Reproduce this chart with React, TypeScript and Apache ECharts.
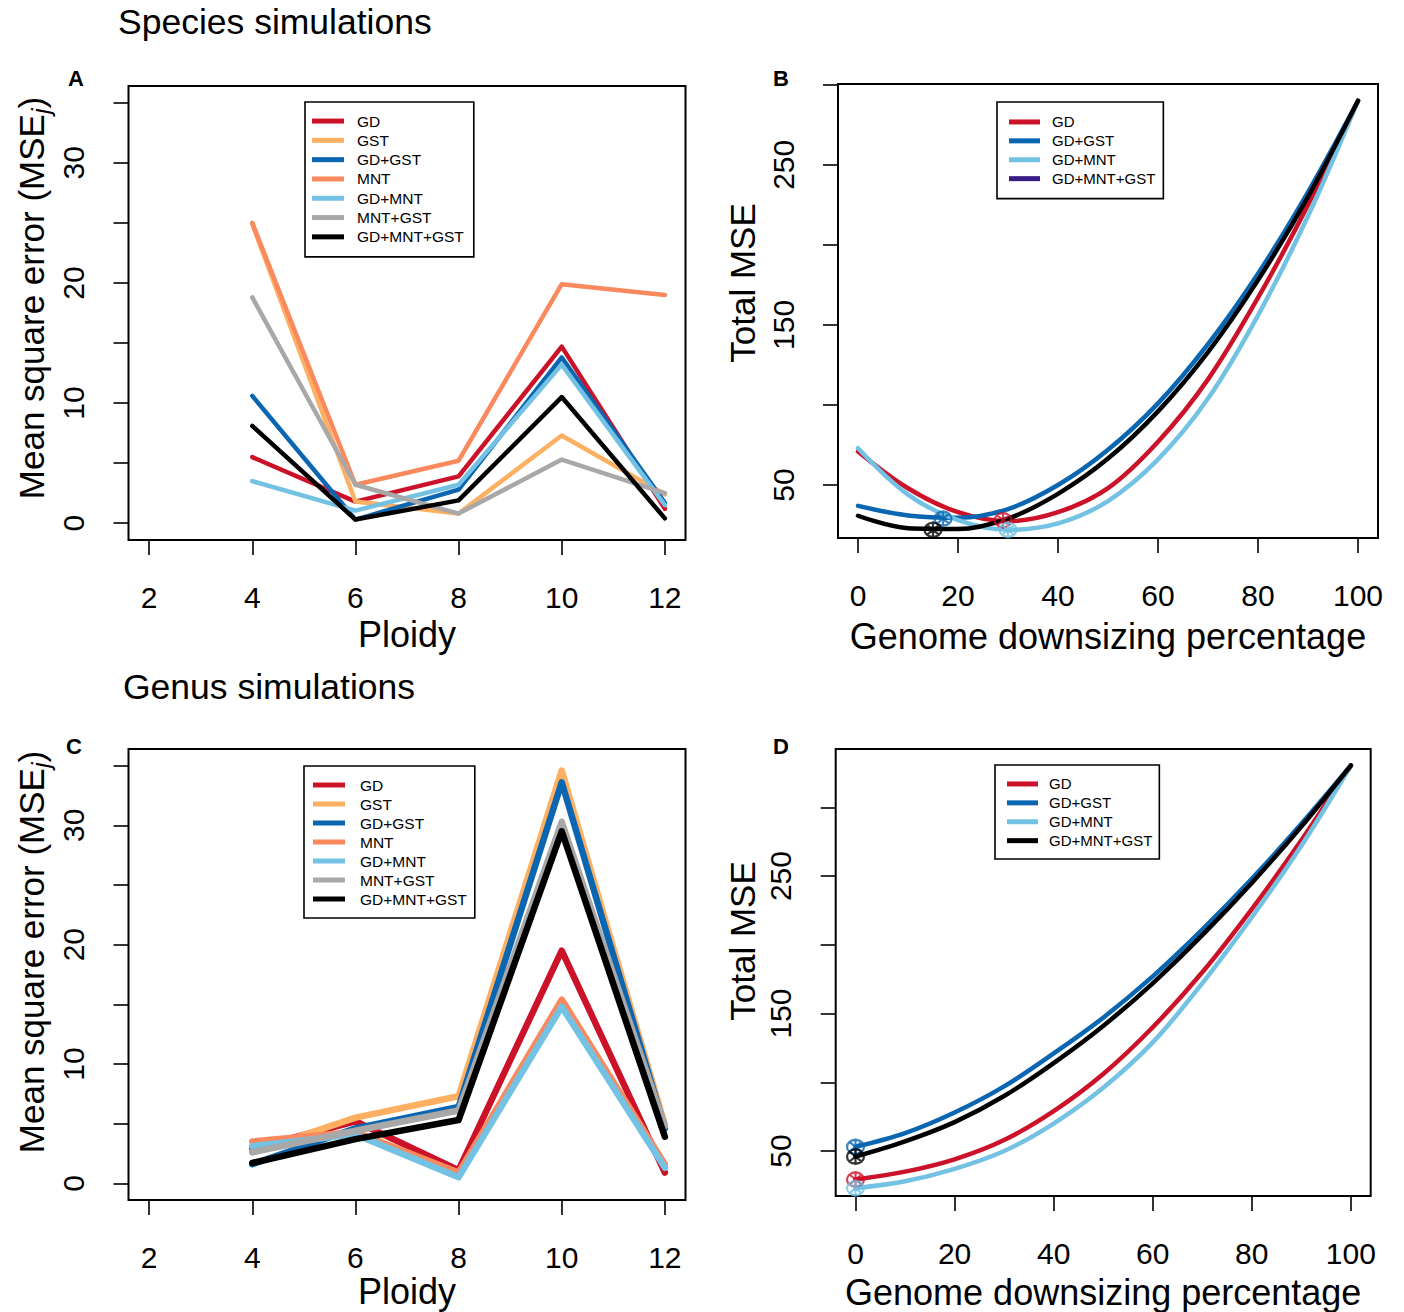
import React, { useEffect, useRef } from 'react';
import * as echarts from 'echarts';

const FONT = '"Liberation Sans", Arial, Helvetica, sans-serif';

// ---------- Panels A & C (ploidy) ----------
const ploidy = [4, 6, 8, 10, 12];
const ploidyTicks = [2, 4, 6, 8, 10, 12];
const mseTicks = [0, 5, 10, 15, 20, 25, 30, 35];
const mseLabels = [0, 10, 20, 30];

const names7 = ['GD', 'GST', 'GD+GST', 'MNT', 'GD+MNT', 'MNT+GST', 'GD+MNT+GST'];
const colors7 = ['#CC1229', '#FDB062', '#0B66B2', '#FA8A5E', '#73C2E3', '#A8A8A8', '#000000'];

// Species simulations (A)
const spGD = [5.5, 1.8, 3.9, 14.7, 1.2];
const spGST = [24.9, 1.8, 0.8, 7.3, 2.4];
const spGDGST = [10.6, 0.3, 2.8, 13.8, 1.7];
const spMNT = [25.0, 3.2, 5.2, 19.9, 19.0];
const spGDMNT = [3.5, 1.05, 3.2, 13.2, 1.5];
const spMNTGST = [18.8, 3.2, 0.8, 5.3, 2.5];
const spAll = [8.1, 0.3, 1.9, 10.5, 0.4];

// Genus simulations (C)
const geGD = [2.9, 5.2, 1.1, 19.5, 0.9];
const geGST = [2.6, 5.5, 7.3, 34.6, 4.9];
const geGDGST = [1.6, 4.6, 6.4, 33.6, 4.6];
const geMNT = [3.5, 4.3, 0.9, 15.4, 1.6];
const geGDMNT = [3.1, 4.1, 0.5, 14.8, 1.3];
const geMNTGST = [2.6, 4.4, 6.1, 30.3, 4.8];
const geAll = [1.7, 3.7, 5.3, 29.5, 3.9];

// ---------- Panels B & D (genome downsizing) ----------
const downsizing = [0, 10, 20, 30, 40, 50, 60, 70, 80, 90, 100];
const pctTicks = [0, 20, 40, 60, 80, 100];
const totalTicks = [50, 100, 150, 200, 250, 300];
const totalLabels = [50, 150, 250];

const names4 = ['GD', 'GD+GST', 'GD+MNT', 'GD+MNT+GST'];
const colors4 = ['#CC1229', '#0B66B2', '#73C2E3', '#000000'];
const legendBAllColor = '#3A1E88';

// B (species)
const bGD = [71, 48, 33, 27.4, 33, 48, 77, 116, 167, 225, 290];
const bGDGST = [37, 31, 29.5, 35, 50, 72, 101, 138, 182, 233, 290];
const bGDMNT = [73, 44, 28, 22, 26, 40, 66, 104, 156, 218, 290];
const bAll = [30.8, 23, 22.5, 29, 44.5, 66.5, 96, 133, 178, 230, 290];
const bOptX = [29, 17, 30, 15];
const bOptY = [28, 29, 22, 22];

// D (genus)
const dGD = [29.3, 35, 44, 58, 79, 106, 140, 180, 226, 276, 330.4];
const dGDGST = [53, 63, 78, 97, 121, 147, 177, 211, 248, 288, 330.4];
const dGDMNT = [23, 28, 37, 50, 70, 96, 129, 172, 220, 272, 330.4];
const dAll = [46, 57, 71, 90, 114, 141, 172, 207, 245, 286, 330.4];
const dOptX = [0, 0, 0, 0];
const dOptY = [29.3, 53, 23, 46];

const MARKER =
  'path://M2,12A10,10,0,1,0,22,12A10,10,0,1,0,2,12ZM4.9,4.9L19.1,19.1M19.1,4.9L4.9,19.1M12,0L12,24';

function xAxisCfg(gridIndex: number, min: number, max: number, ticks: number[], name: string, nameGap: number) {
  return {
    type: 'value',
    gridIndex,
    min,
    max,
    axisLine: { show: false, onZero: false },
    axisTick: { show: true, customValues: ticks, length: 15, lineStyle: { color: '#000', width: 1.6 } },
    axisLabel: { show: true, customValues: ticks, margin: 42, fontSize: 30, color: '#000', fontFamily: FONT },
    splitLine: { show: false },
    name,
    nameLocation: 'middle',
    nameGap,
    nameTextStyle: { fontSize: 36, color: '#000', fontFamily: FONT },
  };
}

function yAxisCfg(gridIndex: number, min: number, max: number, ticks: number[], labels: number[]) {
  return {
    type: 'value',
    gridIndex,
    min,
    max,
    axisLine: { show: false, onZero: false },
    axisTick: { show: true, customValues: ticks, length: 15, lineStyle: { color: '#000', width: 1.6 } },
    axisLabel: {
      show: true,
      customValues: labels,
      rotate: 90,
      margin: 40,
      fontSize: 30,
      color: '#000',
      fontFamily: FONT,
    },
    splitLine: { show: false },
  };
}

function lineSeries(name: string, color: string, axis: number, xs: number[], ys: number[], width: number, smooth: number | boolean) {
  return {
    type: 'line',
    name,
    xAxisIndex: axis,
    yAxisIndex: axis,
    data: xs.map((x, i) => [x, ys[i]]),
    showSymbol: false,
    symbol: 'none',
    smooth,
    silent: true,
    lineStyle: { color, width, cap: 'round', join: 'round' },
    itemStyle: { color },
  };
}

function optSeries(name: string, axis: number, xs: number[], ys: number[]) {
  return {
    type: 'scatter',
    name,
    xAxisIndex: axis,
    yAxisIndex: axis,
    symbol: MARKER,
    symbolSize: 17,
    silent: true,
    z: 5,
    data: xs.map((x, i) => ({
      value: [x, ys[i]],
      itemStyle: { color: 'rgba(0,0,0,0)', borderColor: colors4[i], borderWidth: 2.2 },
    })),
  };
}

function legendCfg(left: number, top: number, names: string[], padding: number[], itemWidth: number, fontSize: number, lineHeight: number, textPad: number, overrides: Record<string, string> = {}) {
  return {
    left,
    top,
    orient: 'vertical',
    selectedMode: false,
    icon: 'rect',
    itemWidth,
    itemHeight: 5,
    itemGap: 0,
    padding,
    borderColor: '#000',
    borderWidth: 1.6,
    backgroundColor: '#fff',
    textStyle: { fontSize, lineHeight, color: '#000', fontFamily: FONT, padding: [0, 0, 0, textPad] },
    data: names.map((n) => (overrides[n] ? { name: n, itemStyle: { color: overrides[n] } } : { name: n })),
  };
}

function yTitle(x: number, y: number, kind: 'mse' | 'total') {
  if (kind === 'mse') {
    return {
      type: 'text',
      x,
      y,
      rotation: Math.PI / 2,
      style: {
        text: '{n|Mean square error (MSE}{s|j}{n|)}',
        align: 'center',
        verticalAlign: 'middle',
        fill: '#000',
        fontFamily: FONT,
        fontSize: 35,
        rich: {
          n: { fontSize: 35, fontFamily: FONT, fill: '#000', lineHeight: 44 },
          s: { fontSize: 25, fontFamily: FONT, fontStyle: 'italic', fill: '#000', verticalAlign: 'bottom', lineHeight: 26 },
        },
      },
    };
  }
  return {
    type: 'text',
    x,
    y,
    rotation: Math.PI / 2,
    style: { text: 'Total MSE', align: 'center', verticalAlign: 'middle', fill: '#000', fontFamily: FONT, fontSize: 35 },
  };
}

function textEl(x: number, y: number, text: string, fontSize: number, bold = false) {
  return {
    type: 'text',
    x,
    y,
    style: {
      text,
      fontSize,
      fontWeight: bold ? 'bold' : 'normal',
      fontFamily: FONT,
      fill: '#000',
      align: bold ? 'center' : 'left',
      verticalAlign: 'middle',
    },
  };
}

function buildOption() {
  const species = [spGD, spGST, spGDGST, spMNT, spGDMNT, spMNTGST, spAll];
  const genus = [geGD, geGST, geGDGST, geMNT, geGDMNT, geMNTGST, geAll];
  const bVals = [bGD, bGDGST, bGDMNT, bAll];
  const dVals = [dGD, dGDGST, dGDMNT, dAll];

  const series: any[] = [];
  names7.forEach((n, i) => series.push(lineSeries(n, colors7[i], 0, ploidy, species[i], 4.5, false)));
  names4.forEach((n, i) => series.push(lineSeries(n, colors4[i], 1, downsizing, bVals[i], 4.5, 0.35)));
  series.push(optSeries('B optimum', 1, bOptX, bOptY));
  names7.forEach((n, i) => series.push(lineSeries(n, colors7[i], 2, ploidy, genus[i], 6.5, false)));
  names4.forEach((n, i) => series.push(lineSeries(n, colors4[i], 3, downsizing, dVals[i], 4.5, 0.35)));
  series.push(optSeries('D optimum', 3, dOptX, dOptY));

  return {
    animation: false,
    backgroundColor: '#fff',
    textStyle: { fontFamily: FONT },
    grid: [
      { left: 128.5, top: 86, width: 557, height: 454, show: true, borderColor: '#000', borderWidth: 2, backgroundColor: 'transparent' },
      { left: 838, top: 84, width: 540, height: 454, show: true, borderColor: '#000', borderWidth: 2, backgroundColor: 'transparent' },
      { left: 128.5, top: 749, width: 557, height: 451, show: true, borderColor: '#000', borderWidth: 2, backgroundColor: 'transparent' },
      { left: 835.7, top: 749, width: 535, height: 447, show: true, borderColor: '#000', borderWidth: 2, backgroundColor: 'transparent' },
    ],
    xAxis: [
      xAxisCfg(0, 1.6, 12.4, ploidyTicks, 'Ploidy', 76),
      xAxisCfg(1, -4, 104, pctTicks, 'Genome downsizing percentage', 80),
      xAxisCfg(2, 1.6, 12.4, ploidyTicks, 'Ploidy', 73),
      xAxisCfg(3, -4, 104, pctTicks, 'Genome downsizing percentage', 78),
    ],
    yAxis: [
      yAxisCfg(0, -1.4, 36.4, mseTicks, mseLabels),
      yAxisCfg(1, 16.9, 300.5, totalTicks, totalLabels),
      yAxisCfg(2, -1.4, 36.4, mseTicks, mseLabels),
      yAxisCfg(3, 17.3, 342.4, totalTicks, totalLabels),
    ],
    legend: [
      legendCfg(305, 102, names7, [9.4, 10, 10.4, 7], 32, 15.5, 19.3, 8),
      legendCfg(997, 102, names4, [10.5, 8, 10.5, 12], 31, 15, 18.9, 7, { 'GD+MNT+GST': legendBAllColor }),
      legendCfg(304, 766, names7, [9.5, 8, 9.5, 9], 32, 15.5, 19, 10),
      legendCfg(995, 765, names4, [9.5, 7, 8.9, 12], 31, 15, 18.9, 6),
    ],
    graphic: [
      textEl(118, 22, 'Species simulations', 35.5),
      textEl(123, 687, 'Genus simulations', 35.5),
      textEl(76, 78, 'A', 22, true),
      textEl(781, 78, 'B', 22, true),
      textEl(74, 746, 'C', 22, true),
      textEl(781, 746, 'D', 22, true),
      yTitle(31, 298, 'mse'),
      yTitle(31, 952, 'mse'),
      yTitle(742, 283, 'total'),
      yTitle(742, 941, 'total'),
    ],
    series,
  };
}

export default function App() {
  const ref = useRef<HTMLDivElement>(null);
  useEffect(() => {
    if (!ref.current) return;
    const chart = echarts.init(ref.current, null, { renderer: 'svg' });
    chart.setOption(buildOption() as any);
    return () => chart.dispose();
  }, []);
  return (
    <div
      ref={ref}
      style={{ position: 'absolute', left: 0, top: 0, width: 1404, height: 1312, background: '#fff' }}
    />
  );
}
